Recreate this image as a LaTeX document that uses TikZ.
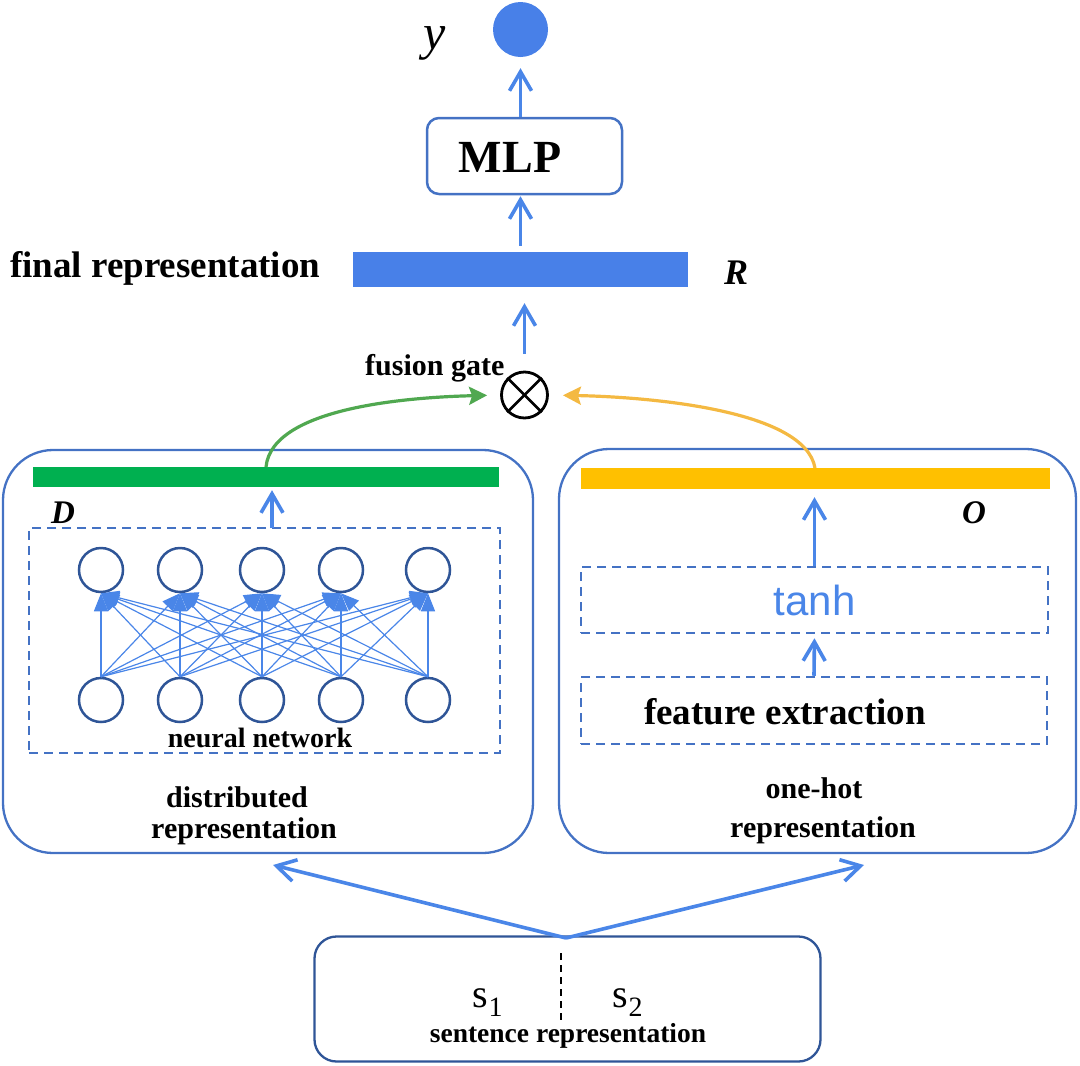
\documentclass[tikz,border=0pt]{standalone}
\usepackage{fontspec}
\setmainfont{Liberation Serif}
\newfontfamily\sansfont{Liberation Sans}
\usetikzlibrary{arrows.meta}

\definecolor{lineblue}{RGB}{74,134,232}
\definecolor{fillblue}{RGB}{72,128,232}
\definecolor{boxblue}{RGB}{68,114,196}
\definecolor{darkblue}{RGB}{47,85,151}
\definecolor{barGreen}{RGB}{0,176,80}
\definecolor{arcGreen}{RGB}{80,168,80}
\definecolor{barYellow}{RGB}{255,192,0}
\definecolor{arcOrange}{RGB}{244,185,66}

\newcommand{\pxfont}[1]{\fontsize{#1}{#1}\selectfont}

\begin{document}
\begin{tikzpicture}[x=1pt,y=-1pt,
        uparrow/.style={draw=lineblue, line width=3.6pt, -{Straight Barb[length=19pt,width=22pt]}},
        bar/.style={inner sep=0pt, minimum height=20pt},
        panel/.style={draw=boxblue, line width=2.3pt, rounded corners=50pt, inner sep=0pt},
        dashbox/.style={draw=boxblue, dashed, dash pattern=on 9pt off 6pt, line width=2.5pt, inner sep=0pt},
        neuron/.style={circle, draw=darkblue, line width=2.5pt, minimum size=44pt, inner sep=0pt},
        nnedge/.style={draw=lineblue, line width=1.2pt, -{Triangle[length=18pt,width=14pt]}},
        gatearc/.style={line width=3.2pt, -{Stealth[length=18pt,width=18pt,inset=3pt]}},
        lbl/.style={inner sep=0pt, anchor=base}]
        % Page frame (pixel grid of the reference)
        \useasboundingbox (0,0) rectangle (1080,1066);

        % Output y and the MLP
        \node[circle, fill=fillblue, minimum size=55pt, inner sep=0pt] (ydot) at (520.5,29.5) {};
        \node[lbl, font=\pxfont{50}\itshape] (ylbl) at (435,49) {y};
        \node[draw=boxblue, line width=2.5pt, rounded corners=12pt, minimum width=195pt, minimum height=76pt] (mlp) at (524.5,156) {};
        \node[lbl, font=\pxfont{46}\bfseries] (mlplbl) at (510,172) {MLP};
        \draw[uparrow, shorten >=11pt] (ydot.south |- mlp.north) -- (ydot.south);

        % Final representation R
        \node[bar, fill=fillblue, minimum width=335pt, minimum height=35pt] (rbar) at (520.5,269.5) {};
        \node[lbl, anchor=base west, font=\pxfont{37}\bfseries] (rlbl) at (10,277) {final representation};
        \node[lbl, anchor=base west, font=\pxfont{36}\bfseries\itshape] (rname) at (724,284) {R};
        \draw[uparrow, shorten <=6pt, shorten >=1pt] (rbar.north) -- (rbar.north |- mlp.south);

        % Fusion gate
        \node[circle, draw=black, line width=2.8pt, minimum size=46pt, inner sep=0pt] (gate) at (524.5,395) {};
        \draw[line width=2.8pt] (gate.north east) -- (gate.south west);
        \draw[line width=2.8pt] (gate.north west) -- (gate.south east);
        \node[lbl, anchor=base west, font=\pxfont{30}\bfseries] (gatelbl) at (365,375) {fusion gate};
        \draw[uparrow, shorten <=17pt, shorten >=16pt] (gate.north) -- (gate.north |- rbar.south);

        % Distributed representation D (left panel)
        \node[panel, minimum width=530pt, minimum height=403pt] (distbox) at (268,651.5) {};
        \node[bar, fill=barGreen, minimum width=466pt] (gbar) at (266,477) {};
        \node[lbl, anchor=base west, font=\pxfont{33}\bfseries\itshape] (dname) at (51,523) {D};
        \node[dashbox, minimum width=471pt, minimum height=225pt] (nnbox) at (264.5,640.5) {};
        \coordinate (nnout) at (272,528);
        \draw[uparrow, shorten >=3pt] (nnout) -- (nnout |- gbar.south);

        % two rows of neurons, fully connected
        \foreach \i/\x in {1/101,2/180,3/262,4/341,5/428} {
            \node[neuron] (t\i) at (\x,570) {};
            \node[neuron] (b\i) at (\x,700) {};
        }
        \foreach \i in {1,...,5}
            \foreach \j in {1,...,5}
                \draw[nnedge] (b\i.north) -- (t\j.south);
        \node[lbl, font=\pxfont{28}\bfseries] (nnlbl) at (260,747) {neural network};
        \node[lbl, font=\pxfont{30}\bfseries] (distlbl) at (237,807) {distributed};
        \node[lbl, font=\pxfont{30}\bfseries] (distlblb) at (244,838) {representation};

        % One-hot representation O (right panel)
        \node[panel, minimum width=517pt, minimum height=404pt] (onehotbox) at (817.5,651) {};
        \node[bar, fill=barYellow, minimum width=469pt, minimum height=21pt] (ybar) at (815,478.5) {};
        \node[lbl, anchor=base west, font=\pxfont{33}\bfseries\itshape] (oname) at (962,523) {O};
        \node[dashbox, minimum width=467pt, minimum height=66pt, text=lineblue, font=\sansfont\pxfont{42}] (tanhbox) at (814.5,600) {tanh};
        \node[dashbox, minimum width=466pt, minimum height=67pt] (featbox) at (814,710.5) {};
        \node[lbl, font=\pxfont{37}\bfseries] (featlbl) at (785,724) {feature extraction};
        \draw[uparrow, shorten >=4pt] (featbox.north) -- (tanhbox.south);
        \draw[uparrow, shorten >=8pt] (tanhbox.north) -- (tanhbox.north |- ybar.south);
        \node[lbl, font=\pxfont{30}\bfseries] (onehotlbl) at (814,798) {one-hot};
        \node[lbl, font=\pxfont{30}\bfseries] (onehotlblb) at (823,837) {representation};

        % Curved inputs of the fusion gate
        \coordinate (gfrom) at (266,467);
        \coordinate (yfrom) at (815,468);
        \draw[gatearc, arcGreen, shorten >=13pt] (gfrom) .. controls (272,405) and (420,397) .. (gate.west);
        \draw[gatearc, arcOrange, shorten >=14pt] (yfrom) .. controls (805,410) and (650,397) .. (gate.east);

        % Sentence representation
        \node[draw=darkblue, line width=2.3pt, rounded corners=22pt, minimum width=506pt, minimum height=125pt] (sentbox) at (567.5,999) {};
        \coordinate (split) at (566,938);
        \coordinate (ltip) at (273,865);
        \coordinate (rtip) at (864,865);
        \draw[uparrow] (split) -- (ltip);
        \draw[uparrow] (split) -- (rtip);
        \coordinate (cutA) at (561,953);
        \coordinate (cutB) at (561,1023);
        \draw[black, line width=1.8pt, dash pattern=on 7pt off 5pt] (cutA) -- (cutB);
        \node[lbl, font=\pxfont{40}] (sone) at (488,1007) {s\textsubscript{1}};
        \node[lbl, font=\pxfont{40}] (stwo) at (628,1007) {s\textsubscript{2}};
        \node[lbl, font=\pxfont{27.5}\bfseries] (sentlbl) at (568,1042) {sentence representation};

    \end{tikzpicture}
\end{document}
